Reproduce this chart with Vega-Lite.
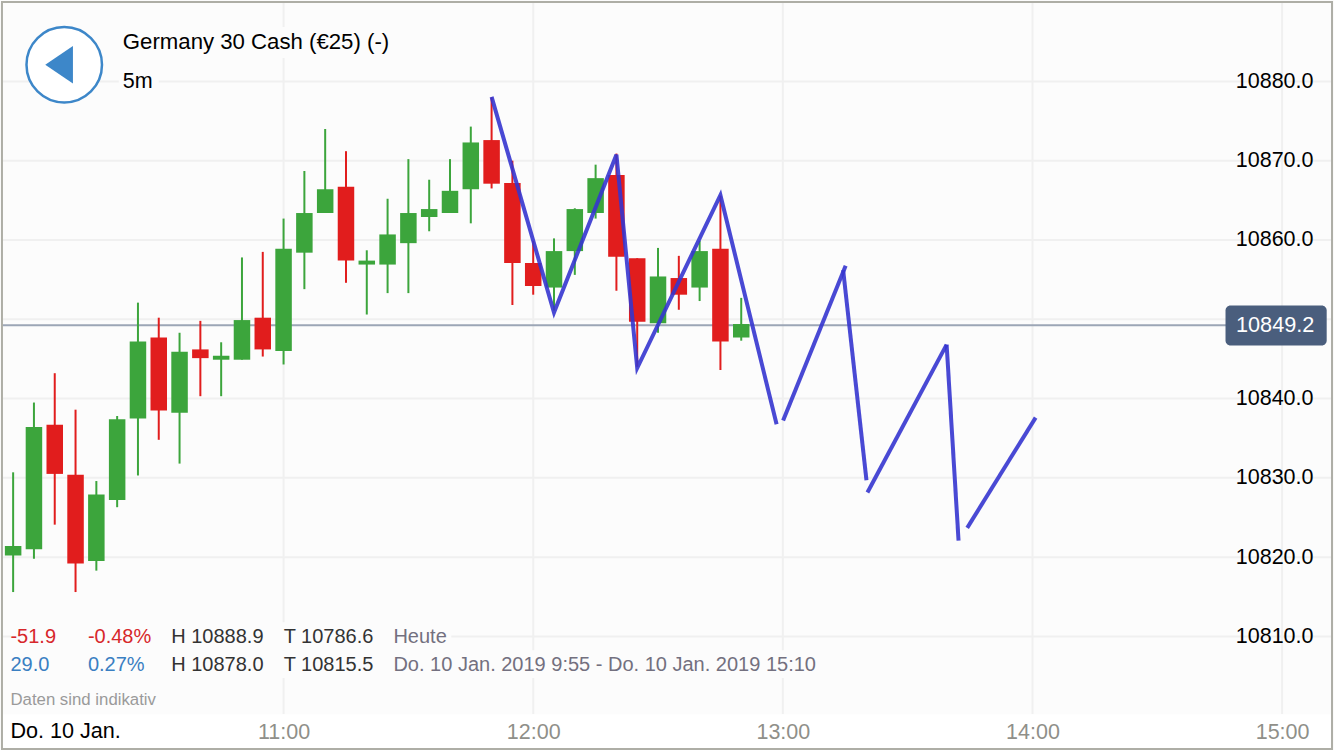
{
"$schema":"https://vega.github.io/schema/vega-lite/v6.json",
"width":1334,"height":750,"padding":0,
"autosize":{"type":"fit","contains":"padding"},
"background":"#fcfcfc",
"config":{"view":{"stroke":null,"fill":"#fcfcfc"},"text":{"font":"Liberation Sans"},"axis":{"labelFont":"Liberation Sans"}},
"datasets":{
"candles":[
{"t":"2019-01-10T09:55:00Z","open":10820.2,"high":10830.7,"low":10815.6,"close":10821.4},
{"t":"2019-01-10T10:00:00Z","open":10821.0,"high":10839.5,"low":10819.8,"close":10836.4},
{"t":"2019-01-10T10:05:00Z","open":10836.7,"high":10843.2,"low":10824.1,"close":10830.5},
{"t":"2019-01-10T10:10:00Z","open":10830.4,"high":10838.6,"low":10815.6,"close":10819.2},
{"t":"2019-01-10T10:15:00Z","open":10819.5,"high":10829.6,"low":10818.3,"close":10827.9},
{"t":"2019-01-10T10:20:00Z","open":10827.2,"high":10837.8,"low":10826.3,"close":10837.4},
{"t":"2019-01-10T10:25:00Z","open":10837.5,"high":10852.1,"low":10830.3,"close":10847.2},
{"t":"2019-01-10T10:30:00Z","open":10847.7,"high":10850.2,"low":10834.8,"close":10838.5},
{"t":"2019-01-10T10:35:00Z","open":10838.2,"high":10848.3,"low":10831.8,"close":10845.9},
{"t":"2019-01-10T10:40:00Z","open":10846.2,"high":10849.8,"low":10840.3,"close":10845.1},
{"t":"2019-01-10T10:45:00Z","open":10844.9,"high":10847.1,"low":10840.3,"close":10845.4},
{"t":"2019-01-10T10:50:00Z","open":10844.9,"high":10857.8,"low":10844.9,"close":10849.9},
{"t":"2019-01-10T10:55:00Z","open":10850.2,"high":10858.5,"low":10845.3,"close":10846.2},
{"t":"2019-01-10T11:00:00Z","open":10846.0,"high":10862.7,"low":10844.3,"close":10858.9},
{"t":"2019-01-10T11:05:00Z","open":10858.4,"high":10868.7,"low":10853.8,"close":10863.4},
{"t":"2019-01-10T11:10:00Z","open":10863.4,"high":10874.0,"low":10863.4,"close":10866.4},
{"t":"2019-01-10T11:15:00Z","open":10866.7,"high":10871.2,"low":10854.6,"close":10857.4},
{"t":"2019-01-10T11:20:00Z","open":10856.9,"high":10858.7,"low":10850.6,"close":10857.4},
{"t":"2019-01-10T11:25:00Z","open":10856.9,"high":10865.2,"low":10853.3,"close":10860.7},
{"t":"2019-01-10T11:30:00Z","open":10859.6,"high":10870.2,"low":10853.3,"close":10863.4},
{"t":"2019-01-10T11:35:00Z","open":10862.9,"high":10867.6,"low":10861.1,"close":10863.9},
{"t":"2019-01-10T11:40:00Z","open":10863.4,"high":10870.2,"low":10863.4,"close":10866.2},
{"t":"2019-01-10T11:45:00Z","open":10866.4,"high":10874.3,"low":10862.1,"close":10872.3},
{"t":"2019-01-10T11:50:00Z","open":10872.6,"high":10878.0,"low":10866.5,"close":10867.1},
{"t":"2019-01-10T11:55:00Z","open":10867.2,"high":10870.0,"low":10851.8,"close":10857.1},
{"t":"2019-01-10T12:00:00Z","open":10857.1,"high":10859.9,"low":10853.1,"close":10854.2},
{"t":"2019-01-10T12:05:00Z","open":10854.0,"high":10860.2,"low":10851.1,"close":10858.6},
{"t":"2019-01-10T12:10:00Z","open":10858.6,"high":10864.0,"low":10855.6,"close":10863.9},
{"t":"2019-01-10T12:15:00Z","open":10863.4,"high":10869.5,"low":10862.7,"close":10867.8},
{"t":"2019-01-10T12:20:00Z","open":10868.2,"high":10870.9,"low":10853.6,"close":10857.9},
{"t":"2019-01-10T12:25:00Z","open":10857.7,"high":10857.7,"low":10844.0,"close":10849.7},
{"t":"2019-01-10T12:30:00Z","open":10849.5,"high":10859.0,"low":10848.3,"close":10855.4},
{"t":"2019-01-10T12:35:00Z","open":10855.2,"high":10858.0,"low":10851.2,"close":10853.1},
{"t":"2019-01-10T12:40:00Z","open":10854.0,"high":10859.9,"low":10852.3,"close":10858.6},
{"t":"2019-01-10T12:45:00Z","open":10858.9,"high":10865.6,"low":10843.6,"close":10847.2},
{"t":"2019-01-10T12:50:00Z","open":10847.7,"high":10852.7,"low":10847.3,"close":10849.4}
],
"lines":[
{"seg":"a","t":"2019-01-10T11:50:00Z","p":10878.05},
{"seg":"a","t":"2019-01-10T12:05:00Z","p":10850.85},
{"seg":"a","t":"2019-01-10T12:20:00Z","p":10870.75},
{"seg":"a","t":"2019-01-10T12:25:00Z","p":10843.85},
{"seg":"a","t":"2019-01-10T12:45:00Z","p":10865.65},
{"seg":"a","t":"2019-01-10T12:58:30Z","p":10836.75},
{"seg":"b","t":"2019-01-10T13:00:04Z","p":10837.25},
{"seg":"b","t":"2019-01-10T13:15:06Z","p":10856.75},
{"seg":"c","t":"2019-01-10T13:14:30Z","p":10856.2},
{"seg":"c","t":"2019-01-10T13:20:06Z","p":10829.7},
{"seg":"d","t":"2019-01-10T13:20:20Z","p":10828.15},
{"seg":"d","t":"2019-01-10T13:39:22Z","p":10846.8},
{"seg":"e","t":"2019-01-10T13:39:22Z","p":10846.8},
{"seg":"e","t":"2019-01-10T13:42:14Z","p":10822.1},
{"seg":"f","t":"2019-01-10T13:44:19Z","p":10823.7},
{"seg":"f","t":"2019-01-10T14:00:46Z","p":10837.6}
]
},
"data":{"values":[{"t":"2019-01-10T11:00:00Z","p":10850}]},
"encoding":{
"x":{"field":"t","type":"temporal","title":null,
"scale":{"type":"utc","padding":0,"domain":[{"year":2019,"month":1,"date":10,"hours":9,"minutes":52,"seconds":5,"utc":true},{"year":2019,"month":1,"date":10,"hours":15,"minutes":12,"seconds":14,"utc":true}]},
"axis":{"orient":"bottom","title":null,"format":"%H:%M","values":[{"year":2019,"month":1,"date":10,"hours":11,"utc":true},{"year":2019,"month":1,"date":10,"hours":12,"utc":true},{"year":2019,"month":1,"date":10,"hours":13,"utc":true},{"year":2019,"month":1,"date":10,"hours":14,"utc":true},{"year":2019,"month":1,"date":10,"hours":15,"utc":true}],"grid":false,"domain":false,"ticks":false,"labelPadding":-18,"labelBaseline":"middle","labelFontSize":21.5,"labelColor":"#8f8f89","labelOverlap":false,"labelFlush":false,"labelBound":false,"zindex":1}},
"y":{"field":"p","type":"quantitative","title":null,
"scale":{"domain":[10795.68,10890.14],"nice":false,"zero":false},
"axis":{"orient":"right","title":null,"format":".1f","values":[10810,10820,10830,10840,10860,10870,10880],"grid":false,"domain":false,"ticks":false,"labelPadding":-20,"labelAlign":"right","labelBaseline":"middle","labelFontSize":21.5,"labelColor":"#000000","labelOverlap":false,"labelFlush":false,"labelBound":false,"zindex":1}}
},
"layer":[
{"data":{"values":[
{"t":"2019-01-10T11:00:00Z","p":10800.2,"p2":10890.14},
{"t":"2019-01-10T12:00:00Z","p":10800.2,"p2":10890.14},
{"t":"2019-01-10T13:00:00Z","p":10800.2,"p2":10890.14},
{"t":"2019-01-10T14:00:00Z","p":10800.2,"p2":10890.14},
{"t":"2019-01-10T15:00:00Z","p":10800.2,"p2":10890.14}
]},"mark":{"type":"rule","stroke":"#f0f0f0","strokeWidth":2},"encoding":{"y2":{"field":"p2"}}},
{"data":{"values":[
{"t":"2019-01-10T09:52:05Z","t2":"2019-01-10T15:12:14Z","p":10810},
{"t":"2019-01-10T09:52:05Z","t2":"2019-01-10T15:12:14Z","p":10820},
{"t":"2019-01-10T09:52:05Z","t2":"2019-01-10T15:12:14Z","p":10830},
{"t":"2019-01-10T09:52:05Z","t2":"2019-01-10T15:12:14Z","p":10840},
{"t":"2019-01-10T09:52:05Z","t2":"2019-01-10T15:12:14Z","p":10850},
{"t":"2019-01-10T09:52:05Z","t2":"2019-01-10T15:12:14Z","p":10860},
{"t":"2019-01-10T09:52:05Z","t2":"2019-01-10T15:12:14Z","p":10870},
{"t":"2019-01-10T09:52:05Z","t2":"2019-01-10T15:12:14Z","p":10880}
]},"mark":{"type":"rule","stroke":"#f0f0f0","strokeWidth":2},"encoding":{"x2":{"field":"t2"}}},
{"data":{"values":[
{"t":"2019-01-10T10:20:24Z","t2":"2019-01-10T11:26:53Z","p":10886.86,"p2":10882.96},
{"t":"2019-01-10T10:20:24Z","t2":"2019-01-10T10:30:00Z","p":10881.57,"p2":10878.05},
{"t":"2019-01-10T09:54:30Z","t2":"2019-01-10T11:40:19Z","p":10811.8,"p2":10808.27},
{"t":"2019-01-10T09:54:30Z","t2":"2019-01-10T13:08:24Z","p":10808.27,"p2":10804.75}
]},"mark":{"type":"rect","fill":"#fcfcfc"},"encoding":{"x2":{"field":"t2"},"y2":{"field":"p2"}}},
{"data":{"values":[{"t":"2019-01-10T09:52:05Z","t2":"2019-01-10T15:12:14Z","p":10800.2,"p2":10795.68}]},"mark":{"type":"rect","fill":"#ffffff"},"encoding":{"x2":{"field":"t2"},"y2":{"field":"p2"}}},
{"data":{"values":[{"t":"2019-01-10T09:52:05Z","t2":"2019-01-10T14:48:00Z","p":10849.25}]},"mark":{"type":"rule","stroke":"#9ca6b6","strokeWidth":2},"encoding":{"x2":{"field":"t2"}}},
{"data":{"name":"candles"},"mark":{"type":"rule","strokeWidth":2},"encoding":{
"y":{"field":"low","type":"quantitative","title":null,"scale":{"domain":[10795.68,10890.14],"nice":false,"zero":false},
"axis":{"orient":"right","title":null,"format":".1f","values":[10810,10820,10830,10840,10860,10870,10880],"grid":false,"domain":false,"ticks":false,"labelPadding":-20,"labelAlign":"right","labelBaseline":"middle","labelFontSize":21.5,"labelColor":"#000000","labelOverlap":false,"labelFlush":false,"labelBound":false,"zindex":1}},
"y2":{"field":"high"},
"color":{"condition":{"test":"datum.close>=datum.open","value":"#3ca53c"},"value":"#e11d1d"}}},
{"data":{"name":"candles"},"mark":{"type":"bar","size":16.5},"encoding":{
"y":{"field":"open","type":"quantitative","title":null,"scale":{"domain":[10795.68,10890.14],"nice":false,"zero":false},
"axis":{"orient":"right","title":null,"format":".1f","values":[10810,10820,10830,10840,10860,10870,10880],"grid":false,"domain":false,"ticks":false,"labelPadding":-20,"labelAlign":"right","labelBaseline":"middle","labelFontSize":21.5,"labelColor":"#000000","labelOverlap":false,"labelFlush":false,"labelBound":false,"zindex":1}},
"y2":{"field":"close"},
"color":{"condition":{"test":"datum.close>=datum.open","value":"#3ca53c"},"value":"#e11d1d"}}},
{"data":{"name":"lines"},"mark":{"type":"line","stroke":"#3535cf","strokeWidth":4,"opacity":0.9,"strokeCap":"butt","strokeJoin":"miter"},"encoding":{"detail":{"field":"seg"}}},
{"data":{"values":[{"t":"2019-01-10T10:07:17Z","p":10882.1}]},"mark":{"type":"point","shape":"circle","filled":true,"fill":"#ffffff","stroke":"#3d87c9","strokeWidth":2.5,"size":5700,"opacity":1}},
{"data":{"values":[{"t":"2019-01-10T10:07:17Z","p":10882.1}]},"mark":{"type":"point","shape":"M0.23,-0.5L0.23,0.5L-0.504,0Z","filled":true,"fill":"#3d87c9","size":5684,"opacity":1}},
{"data":{"values":[
{"t":"2019-01-10T10:21:22Z","p":10885.0,"label":"Germany 30 Cash (€25) (-)"}
]},"mark":{"type":"text","align":"left","baseline":"middle","fontSize":22.2,"fill":"#000000"},"encoding":{"text":{"field":"label"}}},
{"data":{"values":[
{"t":"2019-01-10T10:21:22Z","p":10879.87,"label":"5m"}
]},"mark":{"type":"text","align":"left","baseline":"middle","fontSize":21.5,"fill":"#000000"},"encoding":{"text":{"field":"label"}}},
{"data":{"values":[
{"t":"2019-01-10T09:54:21Z","p":10809.97,"label":"-51.9"},
{"t":"2019-01-10T10:12:58Z","p":10809.97,"label":"-0.48%"}
]},"mark":{"type":"text","align":"left","baseline":"middle","fontSize":20,"fill":"#d7272b"},"encoding":{"text":{"field":"label"}}},
{"data":{"values":[
{"t":"2019-01-10T09:54:21Z","p":10806.42,"label":"29.0"},
{"t":"2019-01-10T10:12:58Z","p":10806.42,"label":"0.27%"}
]},"mark":{"type":"text","align":"left","baseline":"middle","fontSize":20,"fill":"#3a7fc2"},"encoding":{"text":{"field":"label"}}},
{"data":{"values":[
{"t":"2019-01-10T10:33:00Z","p":10809.97,"label":"H 10888.9"},
{"t":"2019-01-10T11:00:01Z","p":10809.97,"label":"T 10786.6"},
{"t":"2019-01-10T10:33:00Z","p":10806.42,"label":"H 10878.0"},
{"t":"2019-01-10T11:00:01Z","p":10806.42,"label":"T 10815.5"}
]},"mark":{"type":"text","align":"left","baseline":"middle","fontSize":20,"fill":"#333333"},"encoding":{"text":{"field":"label"}}},
{"data":{"values":[
{"t":"2019-01-10T11:26:24Z","p":10809.97,"label":"Heute"},
{"t":"2019-01-10T11:26:24Z","p":10806.42,"label":"Do. 10 Jan. 2019 9:55 - Do. 10 Jan. 2019 15:10"}
]},"mark":{"type":"text","align":"left","baseline":"middle","fontSize":20,"fill":"#73707f"},"encoding":{"text":{"field":"label"}}},
{"data":{"values":[{"t":"2019-01-10T09:54:21Z","p":10802.04,"label":"Daten sind indikativ"}]},"mark":{"type":"text","align":"left","baseline":"middle","fontSize":16.8,"fill":"#9a9a9a"},"encoding":{"text":{"field":"label"}}},
{"data":{"values":[{"t":"2019-01-10T09:54:21Z","p":10798.0,"label":"Do. 10 Jan."}]},"mark":{"type":"text","align":"left","baseline":"middle","fontSize":21.6,"fill":"#000000"},"encoding":{"text":{"field":"label"}}},
{"data":{"values":[{"t":"2019-01-10T14:46:24Z","t2":"2019-01-10T15:10:43Z","p":10851.73,"p2":10846.69}]},"mark":{"type":"rect","fill":"#4a5e7d","cornerRadius":5},"encoding":{"x2":{"field":"t2"},"y2":{"field":"p2"}}},
{"data":{"values":[{"t":"2019-01-10T14:58:20Z","p":10849.25,"label":"10849.2"}]},"mark":{"type":"text","align":"center","baseline":"middle","fontSize":21.7,"fill":"#ffffff"},"encoding":{"text":{"field":"label"}}},
{"data":{"values":[{"t":"2019-01-10T09:52:19Z","t2":"2019-01-10T15:12:00Z","p":10890.01,"p2":10795.81}]},"mark":{"type":"rect","fill":null,"stroke":"#aeaea6","strokeWidth":2},"encoding":{"x2":{"field":"t2"},"y2":{"field":"p2"}}}
]
}
